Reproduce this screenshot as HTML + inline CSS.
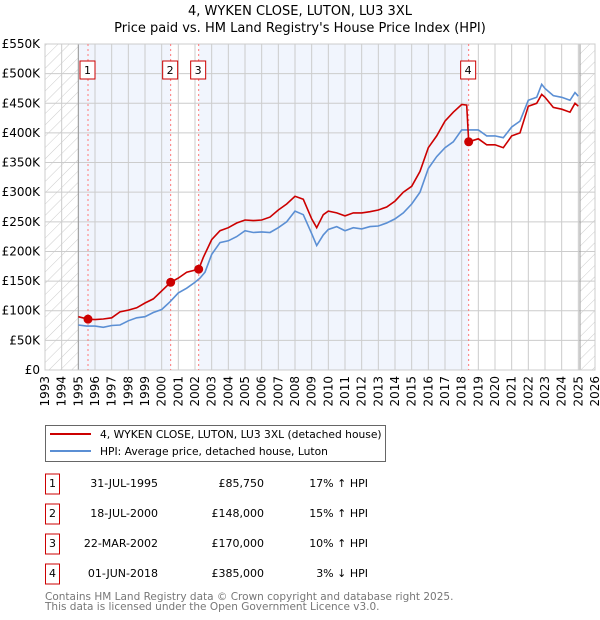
<!DOCTYPE html>
<html><head><meta charset="utf-8"><style>
body{margin:0;background:#fff;font-family:"DejaVu Sans","Liberation Sans",sans-serif;}
#wrap{position:relative;width:600px;height:620px;overflow:hidden;}
svg text{font-family:"DejaVu Sans","Liberation Sans",sans-serif;}
</style></head><body><div id="wrap">
<svg id="c" width="600" height="620"></svg>
</div>
<script>
const hpiYears=[1995,1995.5,1996,1996.5,1997,1997.5,1998,1998.5,1999,1999.5,2000,2000.5,2001,2001.5,2002,2002.3,2002.6,2003,2003.5,2004,2004.5,2005,2005.5,2006,2006.5,2007,2007.5,2008,2008.5,2009,2009.3,2009.7,2010,2010.5,2011,2011.5,2012,2012.5,2013,2013.5,2014,2014.5,2015,2015.5,2016,2016.5,2017,2017.5,2018,2018.5,2019,2019.5,2020,2020.5,2021,2021.5,2022,2022.5,2022.8,2023,2023.5,2024,2024.5,2024.8,2025];
const hpiValues=[76,74,74,72,75,76,83,88,90,97,102,115,130,138,148,155,165,195,215,218,225,235,232,233,232,240,250,268,262,230,210,228,237,242,235,240,238,242,243,248,255,265,280,300,340,360,375,385,405,405,405,395,395,392,410,420,455,460,482,475,463,460,455,468,462];
const priceYears=[1995,1995.58,1996,1996.5,1997,1997.5,1998,1998.5,1999,1999.5,2000.54,2001,2001.5,2002.22,2002.5,2003,2003.5,2004,2004.5,2005,2005.5,2006,2006.5,2007,2007.5,2008,2008.5,2009,2009.3,2009.7,2010,2010.5,2011,2011.5,2012,2012.5,2013,2013.5,2014,2014.5,2015,2015.5,2016,2016.5,2017,2017.5,2018,2018.3,2018.42,2019,2019.5,2020,2020.5,2021,2021.5,2022,2022.5,2022.8,2023,2023.5,2024,2024.5,2024.8,2025];
const priceValues=[90,85.75,85,86,88,98,101,105,113,120,148,155,165,170,190,220,235,240,248,253,252,253,258,270,280,293,288,255,240,262,268,265,260,265,265,267,270,275,285,300,310,335,375,395,420,435,448,447,385,390,380,380,375,395,400,445,450,465,460,443,440,435,450,445];
const saleLabels=["1","2","3","4"];
const saleYears=[1995.58,2000.54,2002.22,2018.42];
const saleValues=[85.75,148,170,385];
const yTicks=[0,50,100,150,200,250,300,350,400,450,500,550];
const yTickLabels=["£0","£50K","£100K","£150K","£200K","£250K","£300K","£350K","£400K","£450K","£500K","£550K"];
const xTicks=[1993,1994,1995,1996,1997,1998,1999,2000,2001,2002,2003,2004,2005,2006,2007,2008,2009,2010,2011,2012,2013,2014,2015,2016,2017,2018,2019,2020,2021,2022,2023,2024,2025,2026];

const L=45,R=595,T=44,B=370,X0=1993,X1=2026,YMAX=550;
const xs=v=>L+(v-X0)/(X1-X0)*(R-L);
const ys=v=>B-v/YMAX*(B-T);
const NS="http://www.w3.org/2000/svg";
const svg=document.getElementById('c');
function mk(t,a,p){const e=document.createElementNS(NS,t);for(const k in a)e.setAttribute(k,a[k]);(p||svg).appendChild(e);return e;}

const defs=mk('defs',{});
const pat=mk('pattern',{id:'h',width:8,height:8,patternUnits:'userSpaceOnUse',patternTransform:'rotate(45)'},defs);
mk('line',{x1:0,y1:0,x2:0,y2:8,stroke:'#ccc','stroke-width':1},pat);

let e;
e=mk('text',{x:300,y:15,'text-anchor':'middle','font-size':13,fill:'#000'});e.textContent="4, WYKEN CLOSE, LUTON, LU3 3XL";

e=mk('text',{x:300,y:32,'text-anchor':'middle','font-size':13,fill:'#000'});e.textContent="Price paid vs. HM Land Registry's House Price Index (HPI)";


e=mk('rect',{x:L,y:T,width:xs(1995)-L,height:B-T,fill:'url(#h)'});

e=mk('rect',{x:xs(2025.1),y:T,width:R-xs(2025.1),height:B-T,fill:'url(#h)'});

const bands=[[1995,saleYears[1]],[saleYears[2],saleYears[3]]];
bands.forEach(b=>{const r=mk('rect',{x:xs(b[0]),y:T,width:xs(b[1])-xs(b[0]),height:B-T,fill:'#eef3fc',opacity:0.8});
});

yTicks.forEach((v,i)=>{mk('line',{x1:L,x2:R,y1:ys(v),y2:ys(v),stroke:'#ccc','stroke-width':1});
const t=mk('text',{x:L-5,y:ys(v)+4,'text-anchor':'end','font-size':12,fill:'#000'});t.textContent=yTickLabels[i];
});
xTicks.forEach(v=>{mk('line',{x1:xs(v),x2:xs(v),y1:T,y2:B,stroke:'#ccc','stroke-width':1});
const t=mk('text',{x:0,y:0,'text-anchor':'end','font-size':12,fill:'#000',transform:`translate(${xs(v)+4},${B+6}) rotate(-90)`});t.textContent=v;
});
mk('line',{x1:xs(1995),x2:xs(1995),y1:T,y2:B,stroke:'#999','stroke-width':1});
mk('line',{x1:xs(2025.1),x2:xs(2025.1),y1:T,y2:B,stroke:'#999','stroke-width':1});
mk('rect',{x:L,y:T,width:R-L,height:B-T,fill:'none',stroke:'#ccc'});

saleYears.forEach((yr,i)=>{
 const l=mk('line',{x1:xs(yr),x2:xs(yr),y1:T,y2:B,stroke:'#f77','stroke-width':1,'stroke-dasharray':'2,3'});
 
 const g=mk('g',{});
 mk('rect',{x:xs(yr)-8,y:61,width:15,height:18,fill:'#fff',stroke:'#c00'},g);
 const t=mk('text',{x:xs(yr)-0.5,y:74,'text-anchor':'middle','font-size':11,fill:'#000'},g);t.textContent=saleLabels[i];
});

function path(xa,va){return xa.map((x,i)=>(i?'L':'M')+xs(x).toFixed(1)+','+ys(va[i]).toFixed(1)).join('');}
e=mk('path',{d:path(hpiYears,hpiValues),fill:'none',stroke:'#5b8fd4','stroke-width':1.6});

e=mk('path',{d:path(priceYears,priceValues),fill:'none',stroke:'#cc0000','stroke-width':1.6});

saleYears.forEach((yr,i)=>{const c=mk('circle',{cx:xs(yr),cy:ys(saleValues[i]),r:4.5,fill:'#cc0000'});
});

const lg=mk('g',{});
mk('rect',{x:45.5,y:425.5,width:340,height:36,fill:'#fff',stroke:'#666'},lg);
mk('line',{x1:50,x2:91,y1:434,y2:434,stroke:'#cc0000','stroke-width':2},lg);
mk('line',{x1:50,x2:91,y1:451,y2:451,stroke:'#5b8fd4','stroke-width':2},lg);
e=mk('text',{x:100,y:438,'font-size':10.7,fill:'#000'},lg);e.textContent="4, WYKEN CLOSE, LUTON, LU3 3XL (detached house)";
e=mk('text',{x:100,y:455,'font-size':10.7,fill:'#000'},lg);e.textContent="HPI: Average price, detached house, Luton";

const tDates=["31-JUL-1995","18-JUL-2000","22-MAR-2002","01-JUN-2018"];
const tPrices=["£85,750","£148,000","£170,000","£385,000"];
const tHpi=["17% ↑ HPI","15% ↑ HPI","10% ↑ HPI","3% ↓ HPI"];
tDates.forEach((d,i)=>{const y=483+i*30;
 const g=mk('g',{});
 mk('rect',{x:45.5,y:y-9,width:14,height:20,fill:'#fff',stroke:'#c00'},g);
 let t=mk('text',{x:52.5,y:y+4,'text-anchor':'middle','font-size':11,fill:'#000'},g);t.textContent=saleLabels[i];
 t=mk('text',{x:158,y:y+4,'text-anchor':'end','font-size':11,fill:'#000'},g);t.textContent=d;
 t=mk('text',{x:264,y:y+4,'text-anchor':'end','font-size':11,fill:'#000'},g);t.textContent=tPrices[i];
 t=mk('text',{x:368,y:y+4,'text-anchor':'end','font-size':11,fill:'#000'},g);t.textContent=tHpi[i];
});
e=mk('text',{x:45,y:600,'font-size':10.5,fill:'#777'});e.textContent="Contains HM Land Registry data © Crown copyright and database right 2025.";

e=mk('text',{x:45,y:610,'font-size':10.5,fill:'#777'});e.textContent="This data is licensed under the Open Government Licence v3.0.";

</script></body></html>
